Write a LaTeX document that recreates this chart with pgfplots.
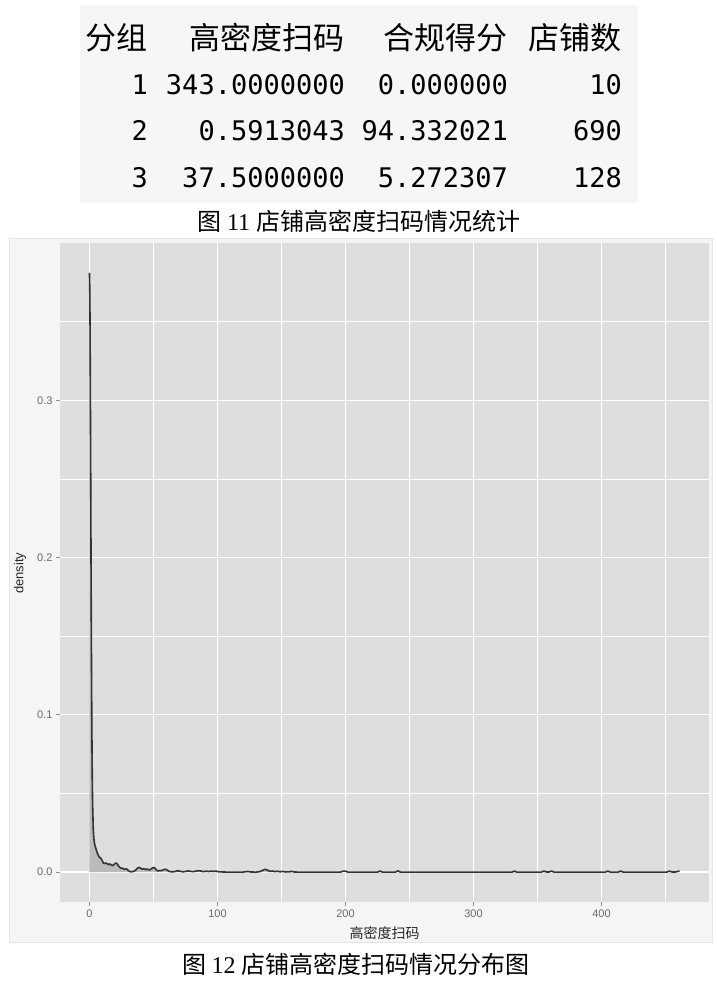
\documentclass[border=0pt]{standalone}
\usepackage{fontspec}
\setmainfont{Liberation Sans}
\setmonofont{DejaVu Sans Mono}
\newfontfamily\cjk{Noto Sans CJK SC}
\newfontfamily\capfont{Liberation Serif}
\usepackage{pgfplots}
\pgfplotsset{compat=1.18}
\usepackage{pgfplotstable}
\definecolor{panel}{HTML}{DEDEDE}
\definecolor{outerbg}{HTML}{F5F5F5}
\definecolor{outerline}{HTML}{E6E6E6}
\definecolor{tabbg}{HTML}{F6F6F6}
\definecolor{ticklab}{HTML}{6A6A6A}
\definecolor{curve}{HTML}{333333}
\definecolor{areafill}{HTML}{BBBBBB}

\pgfplotstableread{
x y
0 0.381
0.25 0.372
0.5 0.345
0.75 0.302
1.0 0.250
1.25 0.197
1.5 0.150
1.75 0.110
2.0 0.079
2.25 0.057
2.5 0.042
3.0 0.027
3.5 0.021
4.0 0.018
5.0 0.015
6.0 0.0125
7.0 0.0105
8.0 0.0093
9.0 0.0088
10 0.0072
11 0.0056
12 0.0055
13 0.0058
14 0.0052
15 0.0048
16 0.0052
17 0.0046
18 0.0041
19 0.0047
20 0.0055
21 0.0057
22 0.0049
23 0.0036
24 0.0028
25 0.0023
26 0.0025
27 0.0018
28 0.0019
29 0.0020
30 0.0013
31 0.0006
32 0.0003
33 0.0002
34 0.0004
35 0.0007
36 0.0012
37 0.0020
38 0.0028
39 0.0030
40 0.0025
41 0.0019
42 0.0022
43 0.0020
44 0.0016
45 0.0020
46 0.0016
47 0.0014
48 0.0019
49 0.0025
50 0.0029
51 0.0027
52 0.0016
53 0.0009
54 0.0008
55 0.0011
56 0.0009
57 0.0012
58 0.0016
59 0.0018
60 0.0017
61 0.0011
62 0.0006
63 0.0003
65 0.0002
67 0.0004
69 0.0009
71 0.0005
73 0.0002
75 0.0004
77 0.0008
79 0.0005
81 0.0003
83 0.0006
85 0.0009
87 0.0007
89 0.0003
91 0.0006
93 0.0004
95 0.0006
97 0.0005
99 0.0006
101 0.0002
104 0.0001
108 0.0000
120 0.0000
122 0.0003
124 0.0004
126 0.0001
130 0.0000
133 0.0003
135 0.0010
137 0.0018
139 0.0013
141 0.0005
143 0.0007
145 0.0003
147 0.0006
149 0.0002
151 0.0005
153 0.0001
156 0.0002
158 0.0005
160 0.0001
163 0.0000
196 0.0000
198 0.0006
200 0.0006
202 0.0000
225 0.0000
227 0.0007
229 0.0000
239 0.0000
241 0.0008
243 0.0000
330 0.0000
332 0.0006
334 0.0000
353 0.0000
355 0.0007
357 0.0001
359 0.0001
361 0.0007
363 0.0000
403 0.0000
405 0.0007
407 0.0000
413 0.0000
415 0.0007
417 0.0000
451 0.0000
453 0.0007
455 0.0001
458 0.0001
460 0.0006
461 0.0005
}\dens

\begin{document}
\begin{tikzpicture}[x=1pt,y=1pt]
\useasboundingbox (0,0) rectangle (717,988);
% table block
\fill[tabbg] (80,785) rectangle (638,983);
\begin{scope}[every node/.style={inner sep=0pt}]
\node[anchor=base east] at (148,938) {\cjk\fontsize{31}{36}\selectfont 分组};
\node[anchor=base east] at (345,938) {\cjk\fontsize{31}{36}\selectfont 高密度扫码};
\node[anchor=base east] at (508,938) {\cjk\fontsize{31}{36}\selectfont 合规得分};
\node[anchor=base east] at (622,938) {\cjk\fontsize{31}{36}\selectfont 店铺数};
\foreach \yy/\a/\b/\c/\d in {893/1/343.0000000/0.000000/10, 847/2/0.5913043/94.332021/690, 800/3/37.5000000/5.272307/128}{
  \node[anchor=base east] at (148,\yy) {\ttfamily\fontsize{27}{32}\selectfont \a};
  \node[anchor=base east] at (345,\yy) {\ttfamily\fontsize{27}{32}\selectfont \b};
  \node[anchor=base east] at (508,\yy) {\ttfamily\fontsize{27}{32}\selectfont \c};
  \node[anchor=base east] at (622,\yy) {\ttfamily\fontsize{27}{32}\selectfont \d};
}
\node[anchor=base] at (359,757) {\fontsize{24}{28}\selectfont\cjk 图 \capfont 11 \cjk 店铺高密度扫码情况统计};
\node[anchor=base] at (356,14) {\fontsize{24}{28}\selectfont\cjk 图 \capfont 12 \cjk 店铺高密度扫码情况分布图};
\end{scope}
% outer plot background
\filldraw[fill=outerbg, draw=outerline, line width=1pt] (9,45) rectangle (712,749);
\begin{axis}[
  at={(60pt,86pt)}, anchor=south west,
  scale only axis, width=649pt, height=659pt,
  xmin=-23, xmax=484, ymin=-0.019, ymax=0.4,
  axis background/.style={fill=panel},
  axis line style={draw=none},
  xtick={0,100,200,300,400},
  ytick={0,0.1,0.2,0.3},
  minor xtick={50,150,250,350,450},
  minor ytick={0.05,0.15,0.25,0.35},
  grid=both,
  major grid style={white, line width=1.3pt},
  minor grid style={white, line width=0.6pt},
  xtick pos=lower, ytick pos=left,
  tick align=outside,
  major tick length=4pt, minor tick length=0pt,
  tick style={color=gray!90, line width=0.9pt},
  yticklabel style={/pgf/number format/.cd, fixed, fixed zerofill, precision=1},
  /pgf/number format/assume math mode=true,
  ticklabel style={font=\fontsize{11}{13}\selectfont, color=ticklab},
  xlabel={\cjk 高密度扫码},
  ylabel={density},
  xlabel style={at={(axis description cs:0.5,-0.047)}, anchor=center, font=\fontsize{14}{16}\selectfont, color=black!85},
  ylabel style={at={(axis description cs:-0.0616,0.499)}, anchor=center, rotate=0, font=\fontsize{13}{15}\selectfont, color=black!85},
  clip=true,
]
\addplot[fill=areafill, draw=none] table[x=x,y=y] {\dens} \closedcycle;
\addplot[curve, line width=1.6pt, line join=round] table[x=x,y=y] {\dens};
\end{axis}
\end{tikzpicture}
\end{document}
